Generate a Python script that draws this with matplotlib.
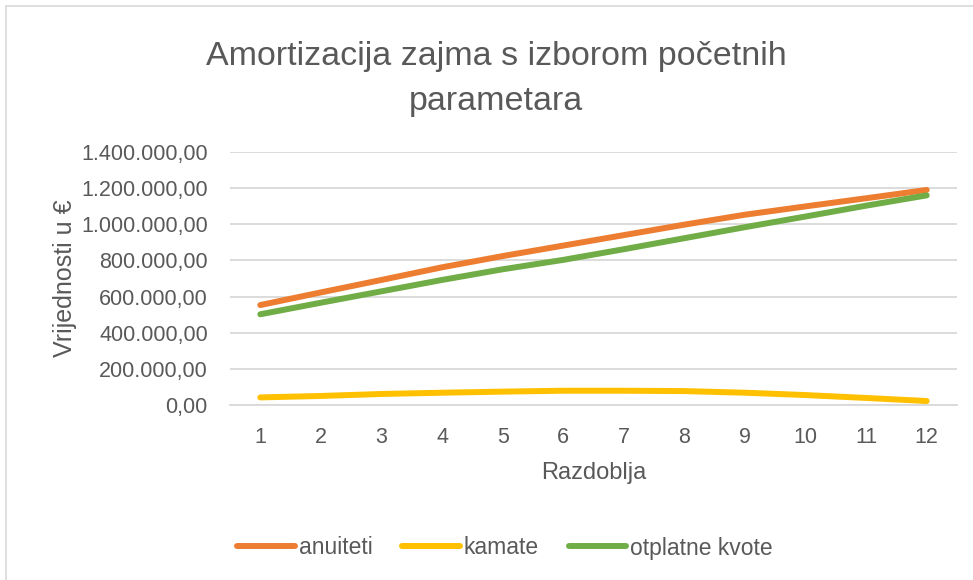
import matplotlib.pyplot as plt
from matplotlib.patches import Rectangle
from matplotlib.ticker import FuncFormatter

plt.rcParams['font.family'] = ['Liberation Sans', 'DejaVu Sans']

# ------------------------------------------------------------------
# DATA
# ------------------------------------------------------------------
razdoblja = [1, 2, 3, 4, 5, 6, 7, 8, 9, 10, 11, 12]
anuiteti = [553000, 623000, 692000, 762000, 824000, 882000,
            940000, 998000, 1053000, 1099000, 1144000, 1190000]
kamate = [42000, 50000, 61000, 68000, 74000, 79000,
          79000, 77000, 68000, 55000, 39000, 22000]
otplatne_kvote = [502000, 566000, 629000, 692000, 751000, 803000,
                  862000, 923000, 984000, 1043000, 1103000, 1160000]
y_ticks = [0, 200000, 400000, 600000, 800000, 1000000, 1200000, 1400000]

TEXT = "#595959"
GRID = "#d9d9d9"


def eu_format(v, pos=None):
    s = f"{v:,.2f}"
    return s.replace(",", "X").replace(".", ",").replace("X", ".")


W, H = 973, 580
fig = plt.figure(figsize=(W / 100, H / 100), dpi=100)
fig.patches.append(Rectangle((6 / W, -0.1), 1.2, 1 - 6 / H + 0.1,
                             transform=fig.transFigure, fill=False,
                             edgecolor=GRID, linewidth=1.2))

ax = fig.add_axes([230 / W, 1 - 405 / H, (957 - 230) / W, (405 - 152) / H])

ax.plot(razdoblja, anuiteti, color="#ED7D31", lw=4.3, solid_capstyle="round", label="anuiteti")
ax.plot(razdoblja, kamate, color="#FFC000", lw=4.3, solid_capstyle="round", label="kamate")
ax.plot(razdoblja, otplatne_kvote, color="#70AD47", lw=4.3, solid_capstyle="round", label="otplatne kvote")

ax.set_xlim(0.5, 12.5)
ax.set_ylim(0, 1400000)
ax.set_xticks(razdoblja)
ax.set_yticks(y_ticks)
ax.yaxis.set_major_formatter(FuncFormatter(eu_format))
ax.grid(axis="y", color=GRID, lw=1.3)
ax.set_axisbelow(True)
for side in ["top", "right", "left"]:
    ax.spines[side].set_visible(False)
ax.spines["bottom"].set_color(GRID)
ax.spines["bottom"].set_linewidth(1.3)
ax.tick_params(axis="both", length=0, colors=TEXT, labelsize=15.5)
ax.tick_params(axis="y", pad=16)
ax.tick_params(axis="x", pad=16)

ax.set_xlabel("Razdoblja", color=TEXT, fontsize=17, labelpad=10)
ax.set_ylabel("Vrijednosti u €", color=TEXT, fontsize=18, labelpad=3)

fig.text(496 / W, 1 - 79 / H, "Amortizacija zajma s izborom početnih\nparametara",
         ha="center", va="center", color=TEXT, fontsize=24.5, linespacing=1.6)

leg = fig.legend(loc="center", bbox_to_anchor=(505 / W, 1 - 548 / H), ncol=3,
                 frameon=False, fontsize=16.5, handlelength=2.5, handletextpad=0.18,
                 columnspacing=1.3)
for t in leg.get_texts():
    t.set_color(TEXT)

fig.savefig("out.png", dpi=100)
